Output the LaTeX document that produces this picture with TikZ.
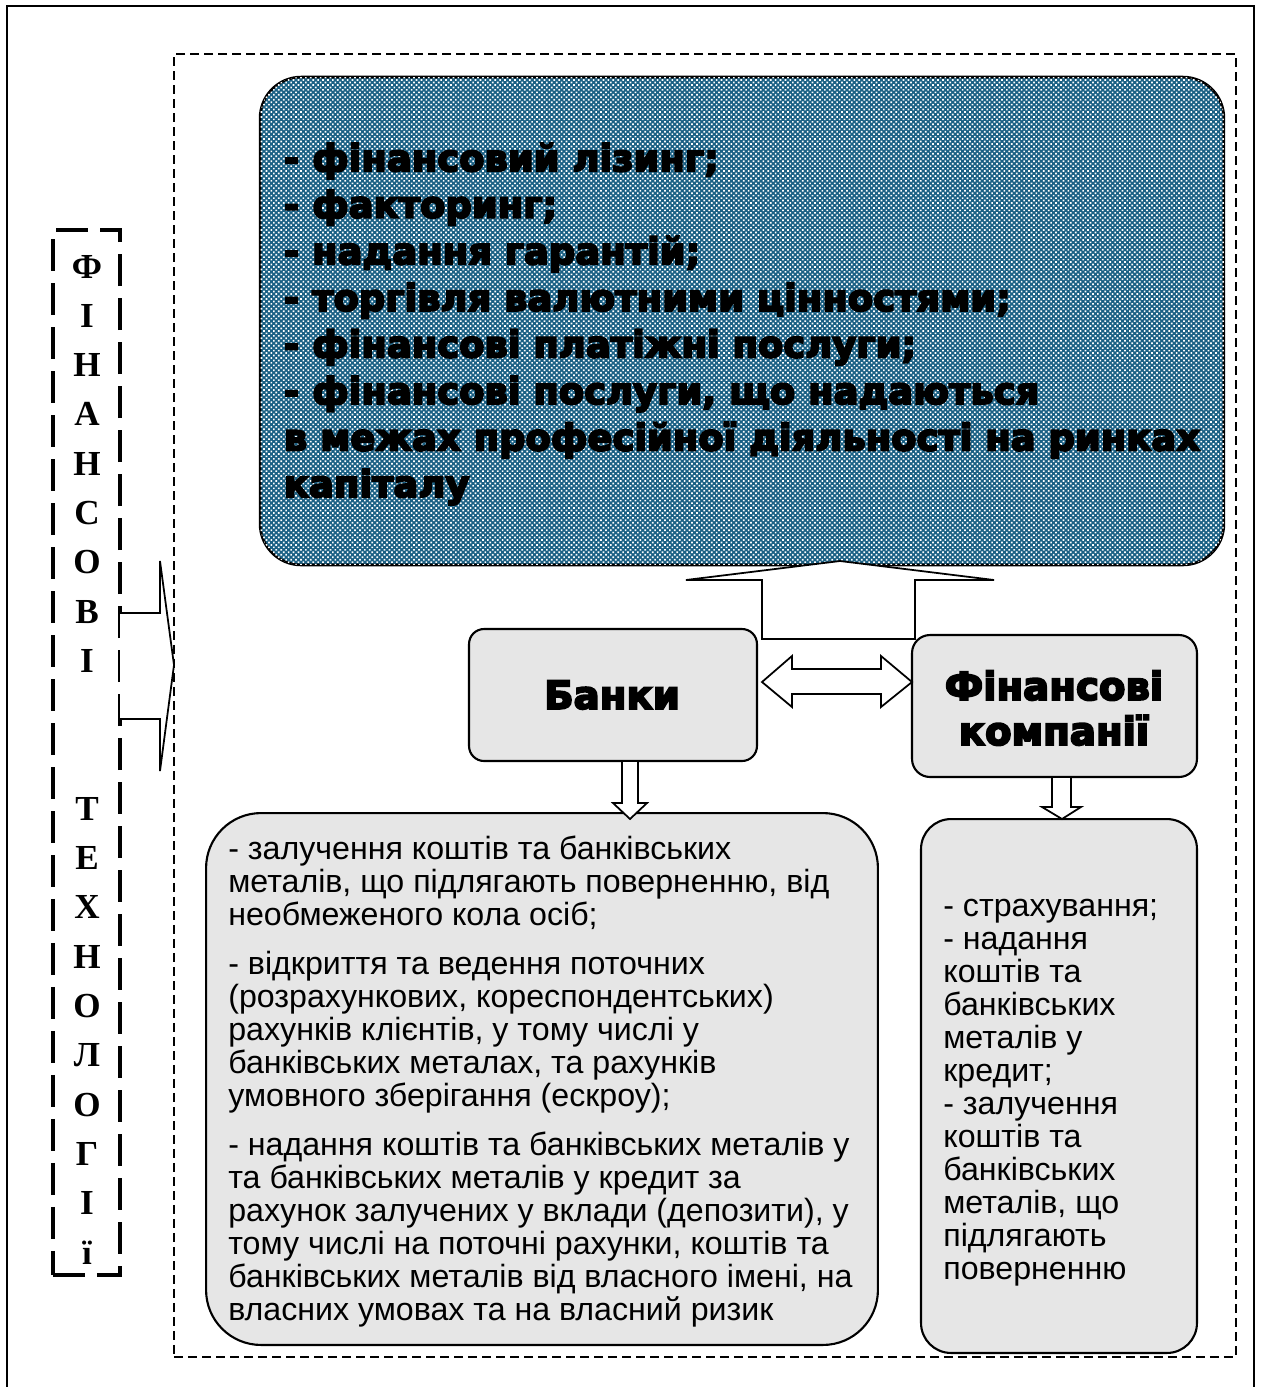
\documentclass[tikz,border=0pt]{standalone}
\usepackage{fontspec}
\setmainfont{Liberation Sans}
\newfontfamily\heavyfont[FakeBold=5]{DejaVu Sans Bold}
\newfontfamily\timesfont{Liberation Serif}
\usetikzlibrary{calc,patterns}

% small white checks laid over the blue panel
\pgfdeclarepatternformonly{weave}{\pgfqpoint{-0.1pt}{-0.1pt}}{\pgfqpoint{2.9pt}{2.9pt}}{\pgfqpoint{2.8pt}{2.8pt}}{%
  \pgfpathrectangle{\pgfqpoint{0pt}{0pt}}{\pgfqpoint{0.95pt}{0.95pt}}%
  \pgfpathrectangle{\pgfqpoint{1.4pt}{1.4pt}}{\pgfqpoint{0.95pt}{0.95pt}}%
  \pgfusepath{fill}}

\definecolor{steel}{RGB}{26,96,132}
\definecolor{panel}{RGB}{230,230,230}

\tikzset{
  panelbox/.style={draw, line width=1.2pt, fill=panel, inner sep=0pt, outer sep=0pt},
  blockarrow/.style={draw, line width=1pt, fill=white, line join=miter},
  heavytext/.style={font=\heavyfont\fontsize{21}{26.5}\selectfont, inner sep=0pt},
  titletext/.style={font=\heavyfont\fontsize{22}{25.6}\selectfont, inner sep=0pt},
  listtext/.style={font=\fontsize{18.3}{18.8}\selectfont, inner sep=0pt, anchor=base west},
}

\begin{document}
\begin{tikzpicture}[x=0.02cm, y=-0.02cm]
\useasboundingbox (0,0) rectangle (1261,1387);

% outer frame, open at the bottom
\draw[line width=1.1pt] (7,1387) -- (7,6) -- (1254,6) -- (1254,1387);

% dashed working area
\node[draw, dashed, dash pattern=on 0.18cm off 0.1cm, line width=1pt,
      minimum width=21.24cm, minimum height=26.06cm, inner sep=0pt] (area) at (705,705.5) {};

% vertical title
\node[draw, line width=2.3pt, dash pattern=on 0.64cm off 0.24cm,
      minimum width=1.34cm, minimum height=20.9cm, inner sep=0pt] (vert) at (86.5,752.5) {};
\node[inner sep=0pt, anchor=base, font=\timesfont\bfseries\fontsize{20}{28.06}\selectfont] (vtext) at (87,278)
  {\vtop{\baselineskip=28.06pt\halign{\hfil#\hfil\cr
   Ф\cr І\cr Н\cr А\cr Н\cr С\cr О\cr В\cr І\cr \cr \cr
   Т\cr Е\cr Х\cr Н\cr О\cr Л\cr О\cr Г\cr І\cr ї\cr}}};

% services panel
\node[draw, line width=1.5pt, fill=steel, postaction={pattern=weave, pattern color=white},
      rounded corners=0.82cm, minimum width=19.28cm, minimum height=9.76cm, inner sep=0pt] (top) at (742,321) {};
\node[heavytext, align=left] (toptext) at (742,324) {%
- фінансовий лізинг;\\
- факторинг;\\
- надання гарантій;\\
- торгівля валютними цінностями;\\
- фінансові платіжні послуги;\\
- фінансові послуги, що надаються\\
в межах професійної діяльності на ринках\\
капіталу};

% institutions
\node[panelbox, rounded corners=0.3cm, minimum width=5.76cm, minimum height=2.64cm] (banks) at (613,695) {};
\node[titletext] (bankstext) at (612,695) {Банки};
\node[panelbox, rounded corners=0.36cm, minimum width=5.7cm, minimum height=2.84cm] (fin) at (1054.5,706) {};
\node[titletext, align=center] (fintext) at (1054,708) {Фінансові\\компанії};

% lists of operations
\node[panelbox, rounded corners=1.1cm, minimum width=13.44cm, minimum height=10.64cm] (list1) at (542,1079) {};
\node[listtext] (list1text) at (228,859) {\vtop{%
\hbox{- залучення коштів та банківських}
\hbox{металів, що підлягають поверненню, від}
\hbox{необмеженого кола осіб;}
\vskip 9.1pt
\hbox{- відкриття та ведення поточних}
\hbox{(розрахункових, кореспондентських)}
\hbox{рахунків клієнтів, у тому числі у}
\hbox{банківських металах, та рахунків}
\hbox{умовного зберігання (ескроу);}
\vskip 9.1pt
\hbox{- надання коштів та банківських металів у}
\hbox{та банківських металів у кредит за}
\hbox{рахунок залучених у вклади (депозити), у}
\hbox{тому числі на поточні рахунки, коштів та}
\hbox{банківських металів від власного імені, на}
\hbox{власних умовах та на власний ризик}}};

\node[panelbox, rounded corners=0.6cm, minimum width=5.52cm, minimum height=10.68cm] (list2) at (1059,1086) {};
\node[listtext] (list2text) at (943,916) {\vtop{%
\hbox{- страхування;}
\hbox{- надання}
\hbox{коштів та}
\hbox{банківських}
\hbox{металів у}
\hbox{кредит;}
\hbox{- залучення}
\hbox{коштів та}
\hbox{банківських}
\hbox{металів, що}
\hbox{підлягають}
\hbox{поверненню}}};

% block arrows
\draw[blockarrow] (120,613) -- (160,613) -- (160,561) -- (174,665) -- (160,771) -- (160,719) -- (120,719);
\draw[blockarrow] (762,639) -- (762,580) -- (686,580) -- (840,561) -- (994,580) -- (915,580) -- (915,639) -- cycle;
\draw[blockarrow] (762,682) -- (792,656) -- (792,669) -- (881,669) -- (881,656) -- (912,682)
   -- (881,707) -- (881,694) -- (792,694) -- (792,707) -- cycle;
\draw[blockarrow] (622,761) -- (622,803) -- (613,803) -- (630,819) -- (647,803) -- (638,803) -- (638,761) -- cycle;
\draw[blockarrow] (1052,777) -- (1052,807) -- (1042,807) -- (1062,819) -- (1081,807) -- (1071,807) -- (1071,777) -- cycle;
\end{tikzpicture}
\end{document}
